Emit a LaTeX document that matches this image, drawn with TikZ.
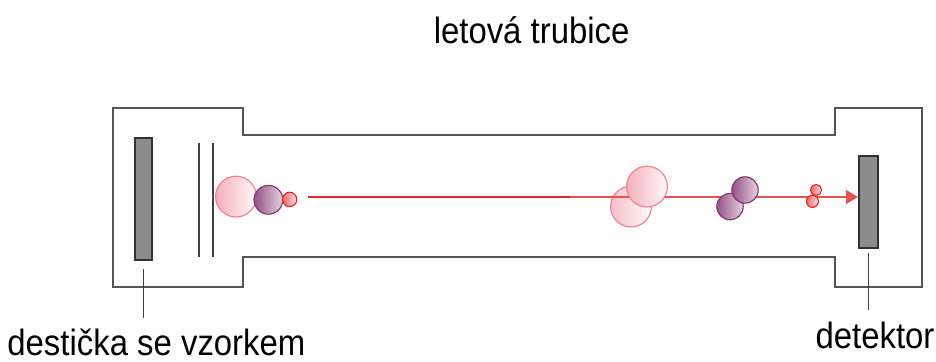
\documentclass[tikz,border=0pt]{standalone}
\usepackage{fontspec}
\setmainfont{Liberation Sans}[FakeStretch=0.9]
\usetikzlibrary{arrows.meta,calc}

\definecolor{wall}{RGB}{85,85,85}
\definecolor{beamred}{RGB}{222,40,40}
\definecolor{pinkion}{RGB}{244,176,184}
\definecolor{pinkedge}{RGB}{236,128,140}
\definecolor{purpion}{RGB}{150,80,135}
\definecolor{purpedge}{RGB}{125,55,105}

\begin{document}
\begin{tikzpicture}[scale=1,
  wall/.style={draw=wall,line width=1.4pt},
  plate/.style={draw=black!80,line width=1.3pt,fill=black!45,minimum width=0.425cm,inner sep=0pt},
  grid/.style={draw=black!75,line width=1.3pt},
  label/.style={anchor=base,inner sep=0pt,font=\fontsize{26}{30}\selectfont},
  ion/.style={circle,inner sep=0pt,line width=0.8pt},
  big/.style={ion,minimum size=1.02cm,draw=pinkedge,left color=pinkion,right color=white!92!pinkion},
  mid/.style={ion,minimum size=0.72cm,draw=purpedge,left color=purpion,right color=purpion!25},
  small/.style={ion,minimum size=0.36cm,draw=beamred,left color=beamred!70,right color=beamred!15}]
\useasboundingbox (0,0) rectangle (23.4,9.025);

% flight tube
\draw[wall] (2.825,6.325) -- (6.075,6.325) -- (6.075,5.65) -- (20.875,5.65)
  -- (20.875,6.325) -- (23.05,6.325) -- (23.05,1.85) -- (20.875,1.85)
  -- (20.875,2.6) -- (6.075,2.6) -- (6.075,1.85) -- (2.825,1.85) -- cycle;

% sample plate, grids, detector
\node[plate,minimum height=3.05cm] (plate) at (3.5875,4.05) {};
\draw[grid] (4.975,2.6) -- (4.975,5.45);
\draw[grid] (5.325,2.6) -- (5.325,5.45);
\node[plate,minimum width=0.475cm,minimum height=2.3cm] (det) at (21.71,3.975) {};

% ions leaving the plate
\node[big] (b1) at (5.9,4.11) {};
\node[mid] (m1) at (6.71,4.03) {};
\node[small] (s1) at (7.24,4.04) {};

% ions in flight
\node[big,fill opacity=0.8] (b2) at (15.775,3.86) {};
\coordinate (src) at (7.7,4.1);
\coordinate (mid) at (14.25,4.1);
\draw[beamred,line width=1.8pt] (src) -- (mid);
\draw[beamred!80,line width=0.9pt,-{Triangle[length=0.3cm,width=0.35cm]}] (mid) -- (mid -| det.west);
\node[big] (b3) at (16.175,4.36) {};
\node[mid,minimum size=0.66cm] (m2) at (18.25,3.86) {};
\node[mid,minimum size=0.66cm] (m3) at (18.625,4.275) {};
\node[small,minimum size=0.3cm] (s2) at (20.31,3.99) {};
\node[small,minimum size=0.28cm] (s3) at (20.4,4.275) {};

% labels
\node[label] (tube) at (13.29,7.95) {letová trubice};
\node[label] (sample) at (3.91,0.15) {destička se vzorkem};
\node[label] (detlab) at (21.875,0.325) {detektor};
\coordinate (pl) at (3.5875,1.075);
\coordinate (dl) at (21.71,1.275);
\draw[black!75,line width=1pt] ([yshift=-0.2cm]plate.south) -- (pl);
\draw[black!75,line width=1pt] ([yshift=-0.1cm]det.south) -- (dl);
\end{tikzpicture}
\end{document}
